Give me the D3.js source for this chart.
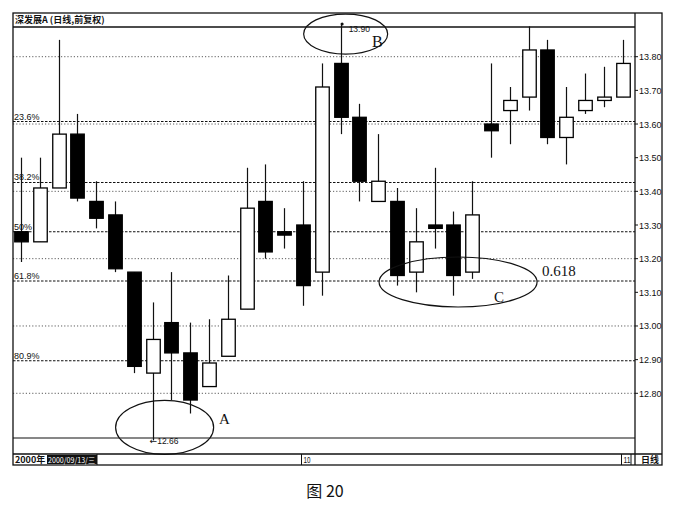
<!DOCTYPE html>
<html><head><meta charset="utf-8">
<script src="https://cdn.jsdelivr.net/npm/d3@7"></script>
<style>
html,body{margin:0;padding:0;background:#fff;}
svg{display:block;}
</style></head>
<body>
<svg id="c" width="673" height="505"></svg>
<script>
// ---- data ----
const dayIndex = d3.range(33);
const openP  = [13.28,13.25,13.41,13.57,13.37,13.33,13.16,12.86,13.01,12.92,12.82,12.91,13.05,13.37,13.28,13.30,13.16,13.78,13.62,13.37,13.37,13.16,13.30,13.30,13.16,13.60,13.64,13.68,13.82,13.56,13.64,13.67,13.68];
const highP  = [13.50,13.50,13.85,13.63,13.43,13.37,13.16,13.07,13.16,13.01,13.02,13.15,13.47,13.48,13.35,13.43,13.78,13.90,13.66,13.57,13.41,13.35,13.47,13.34,13.43,13.78,13.71,13.89,13.85,13.71,13.75,13.77,13.85];
const lowP   = [13.19,13.25,13.41,13.37,13.29,13.16,12.86,12.66,12.78,12.74,12.82,12.91,13.05,13.20,13.23,13.06,13.09,13.57,13.37,13.37,13.12,13.10,13.23,13.09,13.14,13.50,13.54,13.64,13.54,13.48,13.63,13.65,13.68];
const closeP = [13.25,13.41,13.57,13.38,13.32,13.17,12.88,12.96,12.92,12.78,12.89,13.02,13.35,13.22,13.27,13.12,13.71,13.62,13.43,13.43,13.15,13.25,13.29,13.15,13.33,13.58,13.67,13.82,13.56,13.62,13.67,13.68,13.78];
const yTicks = [13.80,13.70,13.60,13.50,13.40,13.30,13.20,13.10,13.00,12.90,12.80];
const gridLevels = [13.80,13.60,13.40,13.20,13.00,12.80];
const fibRatios = [0.236,0.382,0.5,0.618,0.809];
const fibLabels = ["23.6%","38.2%","50%","61.8%","80.9%"];
const monthTicks = [{i:15,label:"10"},{i:32,label:"11"}];
const swingHigh = 13.90, swingLow = 12.66;

// ---- scales ----
const svg = d3.select("#c");
const x = d3.scalePoint().domain(dayIndex).range([21, 622.7]);
const y = d3.scaleLinear().domain([12.80, 13.80]).range([393.3, 56.7]);
const bodyW = 13.5;
const L = 13, R = 635, RR = 662, T = 13, TB = 27, PB = 438, SB = 454, B = 465;

// gridlines
svg.append("g").selectAll("line").data(gridLevels).join("line")
  .attr("x1", L).attr("x2", R).attr("y1", d=>y(d)).attr("y2", d=>y(d))
  .attr("stroke","#333").attr("stroke-width",0.8).attr("stroke-dasharray","1.2,2");

// fib lines
const fibG = svg.append("g");
fibRatios.forEach((r,k)=>{
  const p = swingHigh - r*(swingHigh - swingLow);
  fibG.append("line").attr("x1",L).attr("x2",R).attr("y1",y(p)).attr("y2",y(p))
    .attr("stroke","#111").attr("stroke-width",1.1).attr("stroke-dasharray","2.5,1.5");
  fibG.append("text").attr("x",L+1).attr("y",y(p)-2).text(fibLabels[k])
    .attr("font-family","Liberation Sans, Arial").attr("font-size",9).attr("fill","#111");
});

// frame
const fr = svg.append("g").attr("stroke","#111").attr("fill","none");
fr.append("rect").attr("x",L).attr("y",T).attr("width",RR-L).attr("height",B-T).attr("stroke-width",1.3);
fr.append("line").attr("x1",L).attr("x2",R).attr("y1",TB).attr("y2",TB).attr("stroke-width",1.3);
fr.append("line").attr("x1",R).attr("x2",R).attr("y1",T).attr("y2",B).attr("stroke-width",1.3);
fr.append("line").attr("x1",L).attr("x2",R).attr("y1",PB).attr("y2",PB).attr("stroke-width",1.2);
fr.append("line").attr("x1",L).attr("x2",RR).attr("y1",SB).attr("y2",SB).attr("stroke-width",1.3);

// title
svg.append("text").attr("x",15).attr("y",23).text("深发展A (日线,前复权)")
  .attr("font-family","Noto Sans CJK SC").attr("font-size",9).attr("font-weight","bold").attr("fill","#111");

// right axis
const yAx = svg.append("g");
yTicks.forEach(t=>{
  yAx.append("line").attr("x1",R).attr("x2",R+3).attr("y1",y(t)).attr("y2",y(t)).attr("stroke","#111");
  yAx.append("text").attr("x",R+4).attr("y",y(t)+3.5).text(t.toFixed(2))
    .attr("font-family","Liberation Sans, Arial").attr("font-size",9).attr("fill","#111");
});

// candles
const cg = svg.append("g");
dayIndex.forEach(i=>{
  const o=openP[i], h=highP[i], l=lowP[i], c=closeP[i];
  const up = c >= o;
  const cx = Math.round(x(i))+0.5;
  cg.append("line").attr("x1",cx).attr("x2",cx).attr("y1",y(h)).attr("y2",y(l))
    .attr("stroke","#111").attr("stroke-width",1.2);
  const top = y(Math.max(o,c)), bot = y(Math.min(o,c));
  const hgt = Math.max(bot-top, 2.5);
  cg.append("rect").attr("x",cx-bodyW/2).attr("y",top).attr("width",bodyW).attr("height",hgt)
    .attr("fill", up ? "#fff" : "#000").attr("stroke","#000").attr("stroke-width",1.3);
});

// bottom strip
svg.append("text").attr("x",15).attr("y",463).text("2000年")
  .attr("font-family","Noto Sans CJK SC").attr("font-size",9).attr("font-weight","bold").attr("fill","#111");
svg.append("rect").attr("x",47).attr("y",455).attr("width",50).attr("height",9).attr("fill","#111");
svg.append("text").attr("x",48).attr("y",463).text("2000/09/13/三")
  .attr("font-family","Noto Sans CJK SC").attr("font-size",8).attr("fill","#fff")
  .attr("textLength",47).attr("lengthAdjust","spacingAndGlyphs");
svg.append("line").attr("x1",97).attr("x2",97).attr("y1",SB).attr("y2",B).attr("stroke","#111");
monthTicks.forEach(m=>{
  const tx = Math.round(x(m.i))-1.5;
  svg.append("line").attr("x1",tx).attr("x2",tx).attr("y1",SB).attr("y2",B).attr("stroke","#111");
  svg.append("text").attr("x",tx+2).attr("y",463).text(m.label)
    .attr("font-family","Liberation Sans, Arial").attr("font-size",8.5).attr("fill","#111")
    .attr("textLength",7).attr("lengthAdjust","spacingAndGlyphs");
});
svg.append("line").attr("x1",631).attr("x2",631).attr("y1",SB).attr("y2",B).attr("stroke","#111");
svg.append("text").attr("x",641).attr("y",463).text("日线")
  .attr("font-family","Noto Sans CJK SC").attr("font-size",9).attr("font-weight","bold").attr("fill","#111");

// annotations
const an = svg.append("g");
const lowI = 7, highI = 17, cI = 20;
// A
an.append("ellipse").attr("cx",x(lowI)+12).attr("cy",y(swingLow)-13).attr("rx",49).attr("ry",27)
  .attr("fill","none").attr("stroke","#111").attr("stroke-width",1.2);
const lowLbl = an.append("text").attr("x",x(lowI)-3).attr("y",y(swingLow)+4)
  .attr("font-family","Liberation Sans, Arial").attr("font-size",8.5).attr("fill","#111");
lowLbl.append("tspan").attr("font-family","DejaVu Sans").attr("font-size",9).text("←");
lowLbl.append("tspan").text(swingLow.toFixed(2));
an.append("text").attr("x",219).attr("y",424).text("A")
  .attr("font-family","Liberation Serif, Times New Roman").attr("font-size",15).attr("fill","#111");
// B
an.append("ellipse").attr("cx",x(highI)+5).attr("cy",y(swingHigh)+11).attr("rx",42).attr("ry",20)
  .attr("fill","none").attr("stroke","#111").attr("stroke-width",1.2);
an.append("circle").attr("cx",x(highI)+1.5).attr("cy",y(swingHigh)+1).attr("r",1.5).attr("fill","#111");
an.append("text").attr("x",x(highI)+8).attr("y",y(swingHigh)+9).text(swingHigh.toFixed(2))
  .attr("font-family","Liberation Sans, Arial").attr("font-size",8.5).attr("fill","#111");
an.append("text").attr("x",372).attr("y",47).text("B")
  .attr("font-family","Liberation Serif, Times New Roman").attr("font-size",16).attr("fill","#111");
// C
const fib618 = swingHigh - 0.618*(swingHigh - swingLow);
an.append("ellipse").attr("cx",x(cI)+61).attr("cy",y(fib618)+1).attr("rx",79).attr("ry",25)
  .attr("fill","none").attr("stroke","#111").attr("stroke-width",1.2);
an.append("text").attr("x",494).attr("y",302).text("C")
  .attr("font-family","Liberation Serif, Times New Roman").attr("font-size",15).attr("fill","#111");
an.append("text").attr("x",542).attr("y",276).text("0.618")
  .attr("font-family","Liberation Serif, Times New Roman").attr("font-size",15).attr("fill","#111");

// caption
svg.append("text").attr("x",325).attr("y",497).attr("text-anchor","middle").text("图 20")
  .attr("font-family","Noto Sans CJK SC").attr("font-size",16).attr("fill","#111");
</script>
</body></html>
